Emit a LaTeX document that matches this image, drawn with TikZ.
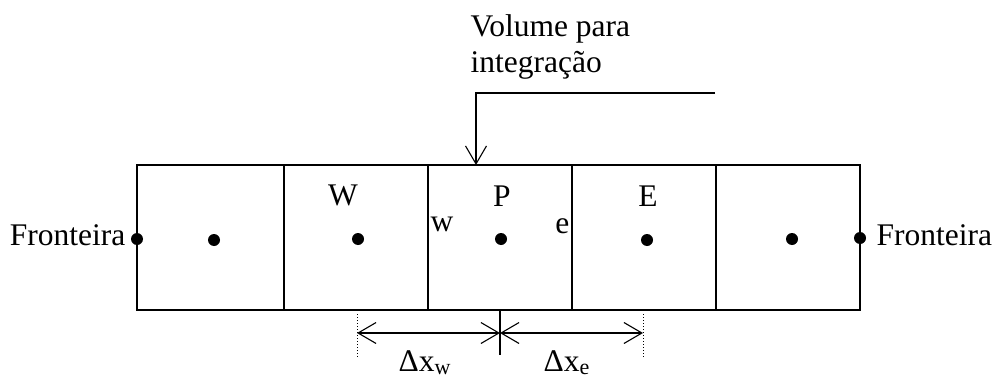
\documentclass[tikz,border=0pt]{standalone}
\usepackage{fontspec}
\setmainfont{Liberation Serif}
\usetikzlibrary{arrows.meta}
\begin{document}
\begin{tikzpicture}[x=1pt,y=-1pt,line width=1.3pt,
  lbl/.style={font=\fontsize{31.5}{36}\selectfont,inner sep=0pt},
  dotpt/.style={circle,fill=black,minimum size=12pt,inner sep=0pt},
  >={Straight Barb[length=18pt,width=21pt,line width=1.1pt]},
  dimline/.style={<->},
  callout/.style={->}]
\useasboundingbox (0,0) rectangle (994,380);
% cells
\draw (137,165) rectangle (860,310);
\foreach \x in {284,428,572,716} \draw (\x,165) -- (\x,310);
% points
\node[dotpt] (fl) at (137,239) {};
\node[dotpt] (c1) at (214,240) {};
\node[dotpt] (W) at (358,239) {};
\node[dotpt] (P) at (501,239) {};
\node[dotpt] (E) at (647,240) {};
\node[dotpt] (c5) at (792,239) {};
\node[dotpt] (fr) at (860,238) {};
% labels
\node[lbl,anchor=base east] (tfl) at (126,245) {Fronteira};
\node[lbl,anchor=base west] (tfr) at (876,245) {Fronteira};
\node[lbl,anchor=base] (tW) at (343,205) {W};
\node[lbl,anchor=base] (tP) at (502,206) {P};
\node[lbl,anchor=base] (tE) at (648,206) {E};
\node[lbl,anchor=base] (tw) at (442,231) {w};
\node[lbl,anchor=base east] (te) at (570,233) {e};
\node[lbl,anchor=base west] (v1) at (470,36) {Volume para};
\node[lbl,anchor=base west] (v2) at (470,72) {integração};
% callout arrow
\coordinate (cs) at (715,93);
\coordinate (cb) at (476,93);
\coordinate (ct) at (476,165);
\draw[callout] (cs) -- (cb) -- (ct);
% dimension
\coordinate (dl) at (357,333);
\coordinate (dc) at (500,333);
\coordinate (dr) at (643,333);
\draw (500,310) -- (500,355);
\draw[dimline] (dl) -- (dc);
\draw[dimline] (dc) -- (dr);
\draw[dotted,line width=1pt] (357,314) -- (357,357);
\draw[dotted,line width=1pt] (643,314) -- (643,357);
\node[lbl,anchor=base west] (dxw) at (398,371) {Δx\textsubscript{w}};
\node[lbl,anchor=base west] (dxe) at (543,371) {Δx\textsubscript{e}};
\end{tikzpicture}
\end{document}
